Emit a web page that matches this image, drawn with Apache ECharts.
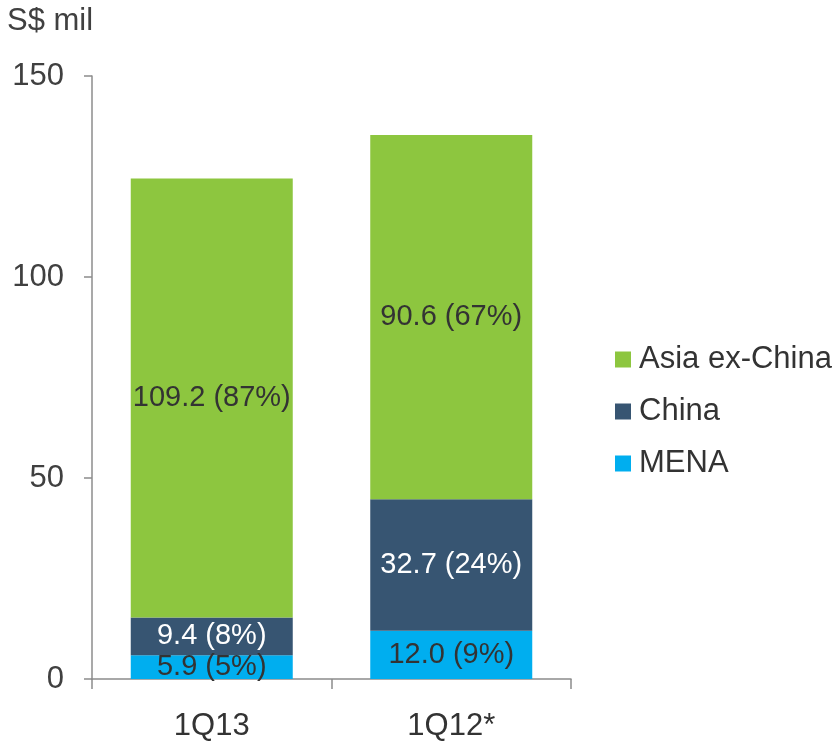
<!DOCTYPE html>
<html>
<head>
<meta charset="utf-8">
<script src="https://cdn.jsdelivr.net/npm/echarts@6/dist/echarts.min.js"></script>
<style>html,body{margin:0;padding:0;background:#fff}#c{width:837px;height:742px}</style>
</head>
<body>
<div id="c"></div>
<script>
var categories = ['1Q13', '1Q12*'];
var menaValues = [5.9, 12.0];
var menaPct = ['5%', '9%'];
var chinaValues = [9.4, 32.7];
var chinaPct = ['8%', '24%'];
var asiaValues = [109.2, 90.6];
var asiaPct = ['87%', '67%'];
var yTicks = { min: 0, max: 150, interval: 50 };

var FONT = '"Liberation Sans", Arial, sans-serif';

function mkLabel(pcts, color) {
  return {
    show: true,
    position: 'inside',
    color: color,
    fontSize: 29,
    fontFamily: FONT,
    formatter: function (p) { return p.value.toFixed(1) + ' (' + pcts[p.dataIndex] + ')'; }
  };
}

var chart = echarts.init(document.getElementById('c'), null, { renderer: 'canvas' });
chart.setOption({
  animation: false,
  textStyle: { fontFamily: FONT },
  grid: { left: 92, right: 266, top: 76, bottom: 63, containLabel: false },
  title: {
    text: 'S$ mil', left: 2, top: 1,
    textStyle: { fontSize: 31, fontWeight: 'normal', color: '#404040', fontFamily: FONT }
  },
  legend: {
    orient: 'vertical', left: 615, top: 344, padding: 0,
    itemWidth: 16, itemHeight: 16, itemGap: 21,
    icon: 'rect',
    data: ['Asia ex-China', 'China', 'MENA'],
    textStyle: { fontSize: 31, color: '#333333', fontFamily: FONT, padding: [0, 0, 0, 3] }
  },
  xAxis: {
    type: 'category',
    data: categories,
    axisLine: { lineStyle: { color: '#8c8c8c', width: 1.5 } },
    axisTick: { show: true, length: 10, lineStyle: { color: '#8c8c8c', width: 1.5 } },
    axisLabel: { fontSize: 31, color: '#333333', margin: 32, fontFamily: FONT }
  },
  yAxis: {
    type: 'value',
    min: yTicks.min, max: yTicks.max, interval: yTicks.interval,
    axisLine: { show: true, lineStyle: { color: '#8c8c8c', width: 1.5 } },
    axisTick: { show: true, length: 8, lineStyle: { color: '#8c8c8c', width: 1.5 } },
    splitLine: { show: false },
    axisLabel: { fontSize: 31, color: '#404040', margin: 28, fontFamily: FONT }
  },
  series: [
    { name: 'MENA', type: 'bar', stack: 'a', barWidth: 162, data: menaValues,
      itemStyle: { color: '#00AEEF' }, label: mkLabel(menaPct, '#333333') },
    { name: 'China', type: 'bar', stack: 'a', barWidth: 162, data: chinaValues,
      itemStyle: { color: '#375572' }, label: mkLabel(chinaPct, '#ffffff') },
    { name: 'Asia ex-China', type: 'bar', stack: 'a', barWidth: 162, data: asiaValues,
      itemStyle: { color: '#8DC63F' }, label: mkLabel(asiaPct, '#333333') }
  ]
});
</script>
</body>
</html>
